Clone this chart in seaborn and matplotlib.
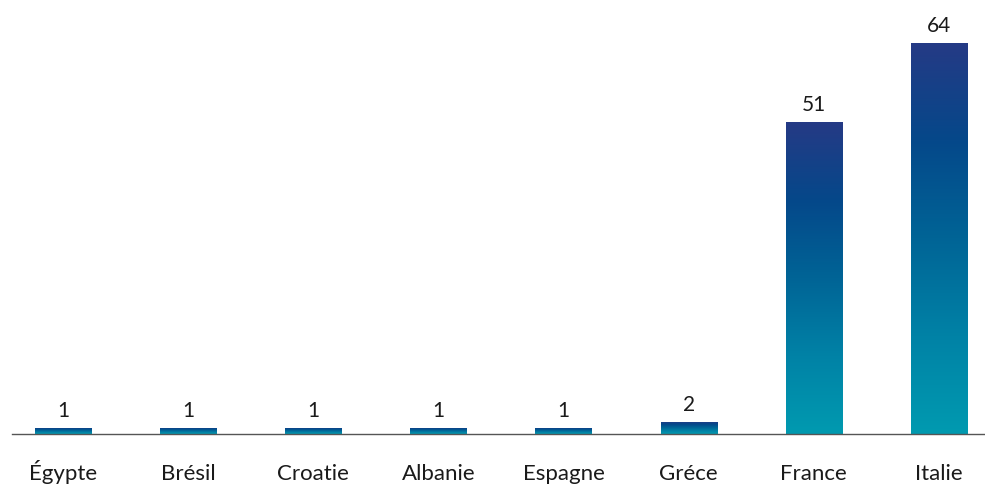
import matplotlib
matplotlib.use("Agg")
import matplotlib.pyplot as plt
import numpy as np
import pandas as pd
import seaborn as sns
from matplotlib.colors import LinearSegmentedColormap

sns.set_theme(style="white")
plt.rcParams["font.family"] = ["Lato", "DejaVu Sans"]

countries = ["Égypte", "Brésil", "Croatie", "Albanie", "Espagne", "Gréce", "France", "Italie"]
counts = [1, 1, 1, 1, 1, 2, 51, 64]

df = pd.DataFrame({"pays": countries, "n": counts})

grad = LinearSegmentedColormap.from_list(
    "bleu", ["#009ab0", "#0082a6", "#006496", "#05488a", "#253a85"]
)

fig = plt.figure(figsize=(9.85, 4.87), dpi=100)
ax = fig.add_axes([12 / 985, 1 - 434 / 487, 1 - 12 / 985, 434 / 487])

sns.barplot(data=df, x="pays", y="n", ax=ax, width=0.45, color="#006496")

# per-bar vertical gradient
g = np.linspace(0, 1, 256).reshape(-1, 1)
for p in ax.patches:
    x0, y0 = p.get_x(), p.get_y()
    w, h = p.get_width(), p.get_height()
    p.set_facecolor("none")
    p.set_edgecolor("none")
    im = ax.imshow(g, cmap=grad, origin="lower", aspect="auto",
                   extent=[x0, x0 + w, y0, y0 + h], zorder=2)
    im.set_clip_path(p)

for i, v in enumerate(counts):
    ax.annotate(str(v), (i, v), xytext=(0, 5), textcoords="offset points",
                ha="center", va="bottom", fontsize=15, color="#1a1a1a")

ax.set_xlim(-0.4075, 7.368)
ax.set_ylim(0, 71)
ax.set_xlabel("")
ax.set_ylabel("")
ax.set_yticks([])
for s in ["top", "right", "left"]:
    ax.spines[s].set_visible(False)
ax.spines["bottom"].set_color("#555555")
ax.spines["bottom"].set_linewidth(1.0)
ax.tick_params(axis="x", length=0, pad=33, labelsize=16, labelcolor="#1a1a1a")
for lab in ax.get_xticklabels():
    lab.set_va("baseline")

fig.savefig("out.png", dpi=100)
